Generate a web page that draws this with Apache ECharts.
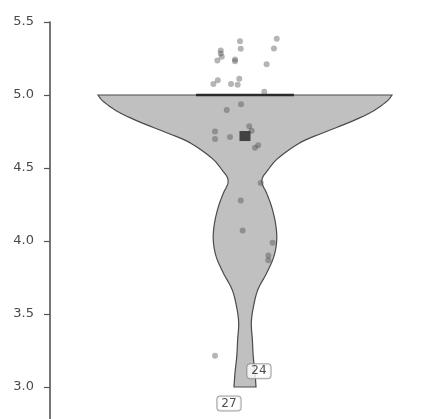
<!DOCTYPE html>
<html><head><meta charset="utf-8">
<script src="https://cdn.jsdelivr.net/npm/echarts@6/dist/echarts.min.js"></script>
<style>html,body{margin:0;padding:0;background:#fff}#c{width:431px;height:419px}</style>
</head><body><div id="c"></div>
<script>
// y tick labels
const yTicks = [3.0, 3.5, 4.0, 4.5, 5.0, 5.5];
// violin profile: value levels and normalized half-widths (density)
const violinValues = [3.000, 3.097, 3.211, 3.325, 3.440, 3.553, 3.668, 3.782, 3.896, 4.010, 4.125, 4.238, 4.330, 4.370, 4.405, 4.440, 4.478, 4.547, 4.615, 4.684, 4.752, 4.821, 4.889, 4.958, 5.000];
const violinWidths = [0.075, 0.068, 0.056, 0.050, 0.043, 0.058, 0.088, 0.148, 0.197, 0.216, 0.207, 0.180, 0.146, 0.126, 0.115, 0.122, 0.150, 0.204, 0.286, 0.395, 0.558, 0.730, 0.870, 0.966, 1.000];
// jittered observations [jitter, value]
const pointJitter = [-0.034, 0.216, -0.029, 0.197, -0.165, -0.165, -0.158, -0.188, -0.068, -0.068, 0.147, -0.185, -0.215, -0.095, -0.050, -0.039, 0.131, -0.027, -0.124, -0.204, -0.204, -0.102, 0.029, 0.045, 0.068, 0.090, 0.107, -0.029, -0.016, 0.188, 0.159, 0.159, -0.204];
const pointValues = [5.368, 5.385, 5.316, 5.318, 5.305, 5.285, 5.262, 5.236, 5.243, 5.232, 5.210, 5.101, 5.076, 5.076, 5.070, 5.112, 5.022, 4.936, 4.897, 4.750, 4.698, 4.712, 4.786, 4.755, 4.638, 4.656, 4.397, 4.277, 4.072, 3.988, 3.901, 3.868, 3.214];
// summary
const medianValue = 5.0;
const medianHalfWidth = 0.333;
const meanValue = 4.719;
// outlier labels
const labelTexts = ['24', '27'];
const labelJitter = [0.095, -0.109];
const labelValues = [3.108, 2.887];

function catmull(pts, n) {
  const out = [];
  for (let i = 0; i < pts.length - 1; i++) {
    const p0 = pts[Math.max(i - 1, 0)], p1 = pts[i], p2 = pts[i + 1], p3 = pts[Math.min(i + 2, pts.length - 1)];
    for (let k = 0; k < n; k++) {
      const t = k / n, t2 = t * t, t3 = t2 * t;
      const f = (a, b, c, d) => 0.5 * ((2 * b) + (-a + c) * t + (2 * a - 5 * b + 4 * c - d) * t2 + (-a + 3 * b - 3 * c + d) * t3);
      out.push([f(p0[0], p1[0], p2[0], p3[0]), f(p0[1], p1[1], p2[1], p3[1])]);
    }
  }
  out.push(pts[pts.length - 1]);
  return out;
}

const chart = echarts.init(document.getElementById('c'), null, {renderer: 'canvas'});
chart.setOption({
  animation: false,
  grid: {left: 50, right: 0, top: 22, bottom: 0, containLabel: false, outerBoundsMode: 'none'},
  xAxis: {type: 'value', min: -1.3265, max: 1.2653, show: false},
  yAxis: {
    type: 'value', min: 2.781, max: 5.5,
    axisLine: {show: true, onZero: false, lineStyle: {color: '#555', width: 1.6}},
    axisTick: {show: true, length: 6, lineStyle: {color: '#555', width: 1.2}, customValues: yTicks},
    axisLabel: {customValues: yTicks, formatter: v => v.toFixed(1), color: '#4a4a4a', fontSize: 13, fontFamily: 'DejaVu Sans, Verdana, sans-serif', margin: 16},
    splitLine: {show: false}
  },
  series: [
    {
      type: 'custom',
      z: 1,
      data: [[0, 0]],
      renderItem: function (params, api) {
        const right = violinValues.map((v, i) => api.coord([violinWidths[i], v]));
        const left = violinValues.map((v, i) => api.coord([-violinWidths[i], v]));
        const r = catmull(right, 8);
        const l = catmull(left, 8).reverse();
        const poly = r.concat(l);
        const m1 = api.coord([-medianHalfWidth, medianValue]);
        const m2 = api.coord([medianHalfWidth, medianValue]);
        return {
          type: 'group',
          children: [
            {type: 'polygon', shape: {points: poly}, style: {fill: '#c0c0c0', stroke: '#4a4a4a', lineWidth: 1.2}},
            {type: 'line', shape: {x1: m1[0], y1: m1[1], x2: m2[0], y2: m2[1]}, style: {stroke: '#2a2a2a', lineWidth: 2.5}}
          ]
        };
      }
    },
    {
      type: 'scatter',
      z: 3,
      symbolSize: 6,
      itemStyle: {color: 'rgba(70,70,70,0.5)'},
      data: pointValues.map((v, i) => [pointJitter[i], v])
    },
    {
      type: 'scatter',
      z: 4,
      symbol: 'rect',
      symbolSize: [11, 10],
      itemStyle: {color: '#222'},
      data: [[0, meanValue]]
    },
    {
      type: 'scatter',
      z: 5,
      symbolSize: 0,
      data: labelValues.map((v, i) => ({value: [labelJitter[i], v], name: labelTexts[i]})),
      label: {
        show: true, position: 'inside', formatter: p => p.name,
        fontSize: 12, color: '#222', fontFamily: 'DejaVu Sans, Verdana, sans-serif',
        backgroundColor: '#fff', borderColor: '#888', borderWidth: 1, borderRadius: 3,
        padding: [1, 4, 0, 4], lineHeight: 13
      }
    }
  ]
});
</script></body></html>
